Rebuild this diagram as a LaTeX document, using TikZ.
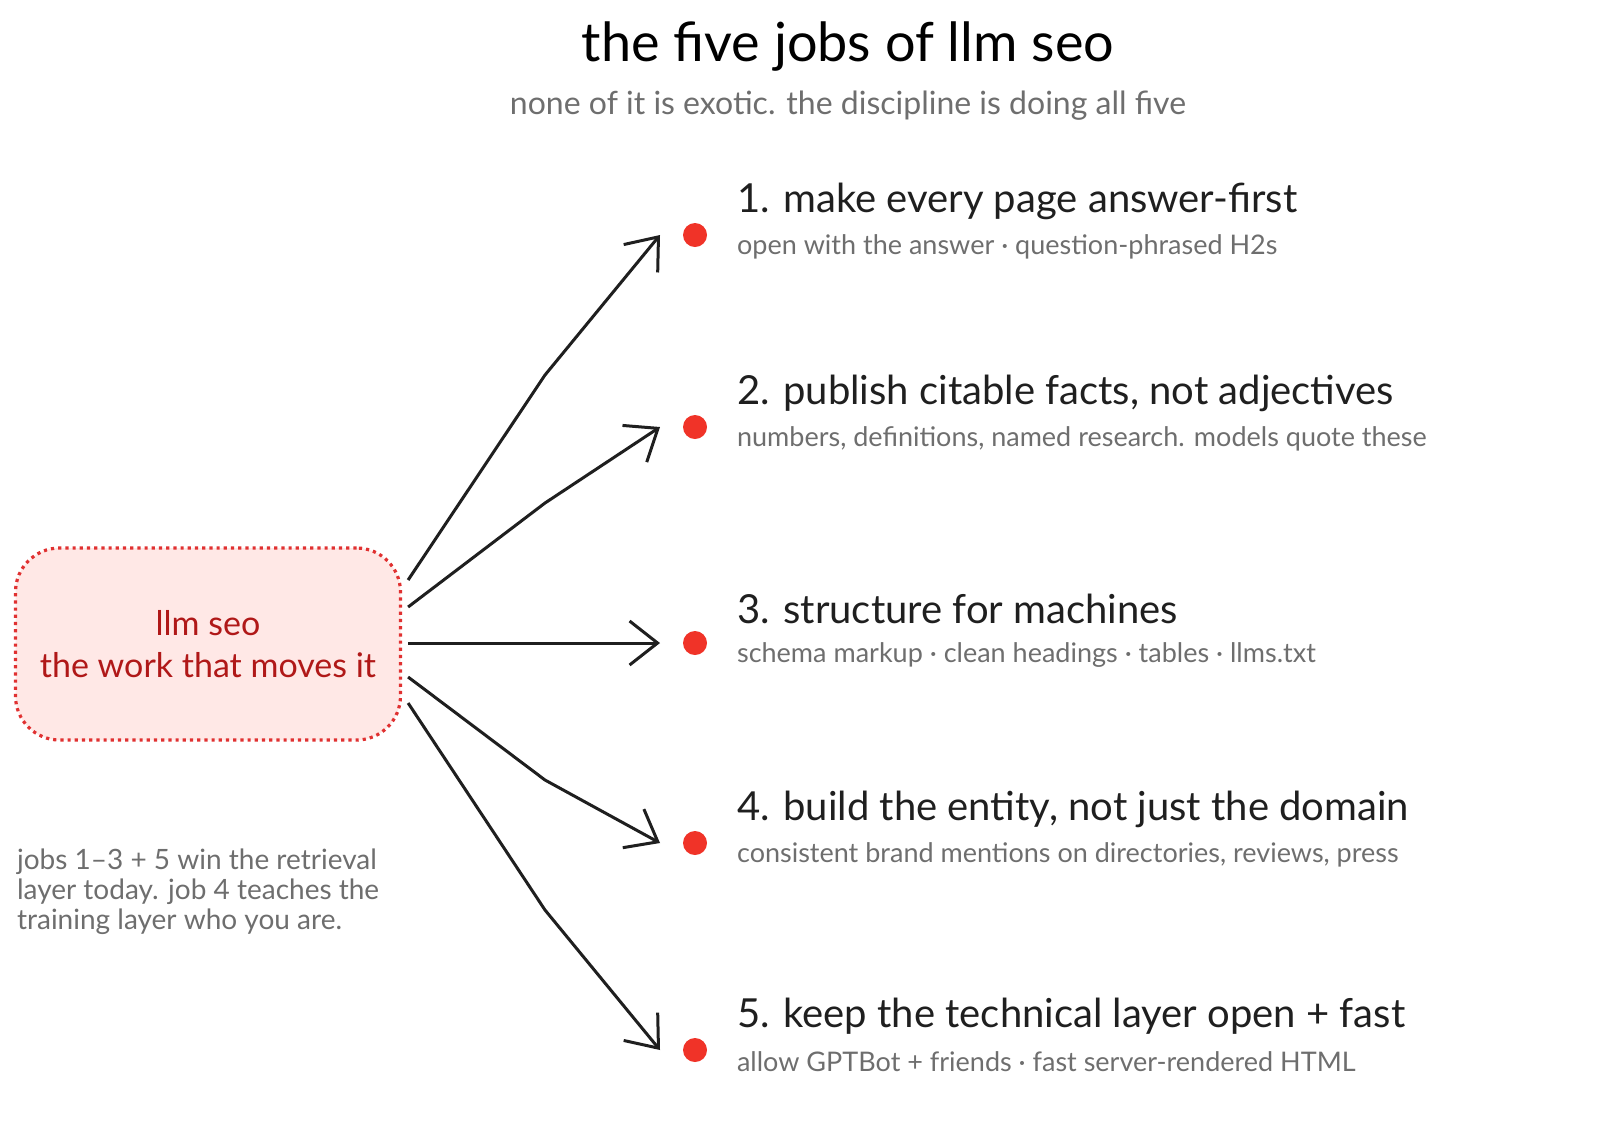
\documentclass[tikz,border=0pt]{standalone}
\usepackage{fontspec}
\setmainfont{Lato}
\usetikzlibrary{arrows.meta,positioning}
\definecolor{boxred}{HTML}{E03131}
\definecolor{boxfill}{HTML}{FFE8E6}
\definecolor{labred}{HTML}{B01818}
\definecolor{subgray}{HTML}{6E6E6E}
\definecolor{dotred}{HTML}{F03328}
\tikzset{
  job/.style={anchor=west, font=\fontsize{20}{24}\selectfont, text=black!88},
  jobsub/.style={anchor=west, font=\fontsize{13.5}{16}\selectfont, text=subgray},
  jobdot/.style={circle, fill=dotred, minimum size=12pt, inner sep=0pt},
  link/.style={line width=1.5pt, black!88, -{Straight Barb[length=14pt,width=22pt,line width=1.5pt]}}
}
\begin{document}
\begin{tikzpicture}[x=0.5pt, y=-0.5pt]
	\useasboundingbox (0,0) rectangle (1600,1121);
%
	% title
	\node (title) at (848,47) {\fontsize{27}{32}\selectfont the five jobs of llm seo};
	\node[text=subgray] (subtitle) at (848,106) {\fontsize{16}{20}\selectfont none of it is exotic. the discipline is doing all five};
%
	% centre box
	\node[draw=boxred, fill=boxfill, dotted, line width=1.6pt, rounded corners=22pt,
		minimum width=385*0.5pt, minimum height=192*0.5pt, align=center,
		text=labred, font=\fontsize{17}{21}\selectfont] (seo) at (208,644) {llm seo\\the work that moves it};
%
	% jobs
	\foreach \i/\y/\head/\sub in {
		1/235/{1. make every page answer-first}/{open with the answer · question-phrased H2s},
		2/427/{2. publish citable facts, not adjectives}/{numbers, definitions, named research. models quote these},
		3/643/{3. structure for machines}/{schema markup · clean headings · tables · llms.txt},
		4/843/{4. build the entity, not just the domain}/{consistent brand mentions on directories, reviews, press},
		5/1050/{5. keep the technical layer open + fast}/{allow GPTBot + friends · fast server-rendered HTML}}{
		\node[jobdot] (dot\i) at (695,\y) {};
		\node[job] (head\i) at (730,\y-34) {\head};
		\node[jobsub] (sub\i) at (730,\y+12) {\sub};
		\coordinate (tip\i) at (660,\y);
	}
%
	% arrows
	\coordinate (bend1) at (545,375);
	\coordinate (bend2) at (545,503);
	\coordinate (bend4) at (545,780);
	\coordinate (bend5) at (545,910);
	\draw[link] (seo.east) ++(6,-64) -- (bend1) -- (tip1);
	\draw[link] (seo.east) ++(6,-37) -- (bend2) -- (tip2);
	\draw[link] (seo.east) ++(6,-1) -- (tip3);
	\draw[link] (seo.east) ++(6,33) -- (bend4) -- (tip4);
	\draw[link] (seo.east) ++(6,59) -- (bend5) -- (tip5);
%
	% note
	\node[anchor=north west, align=left, text=subgray, font=\fontsize{14}{15}\selectfont] (note) at (10,842)
		{jobs 1--3 + 5 win the retrieval\\layer today. job 4 teaches the\\training layer who you are.};
\end{tikzpicture}
\end{document}
